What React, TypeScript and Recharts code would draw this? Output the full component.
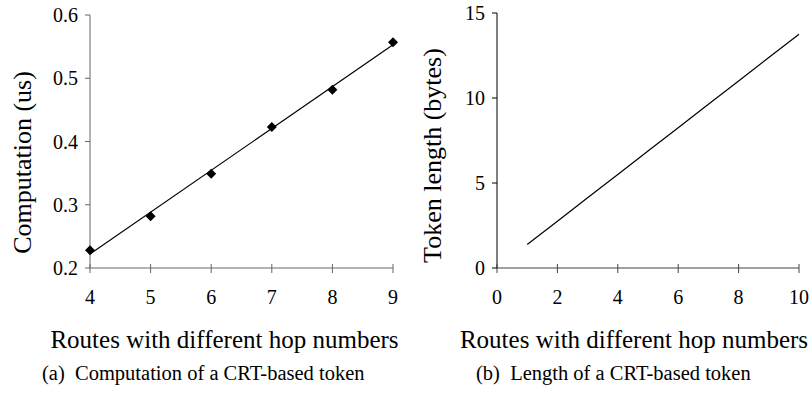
import { ComposedChart, Line, XAxis, YAxis } from "recharts";

// (a) computation time per route length
const hopsA = [4, 5, 6, 7, 8, 9];
const computationUs = [0.228, 0.282, 0.349, 0.423, 0.482, 0.557];
const fitUs = [0.222, null, null, null, null, 0.553];
const ticksAX = [4, 5, 6, 7, 8, 9];
const ticksAY = [0.2, 0.3, 0.4, 0.5, 0.6];

// (b) token length per route length
const hopsB = [1, 2, 3, 4, 5, 6, 7, 8, 9, 10];
const tokenBytes = [1.38, 2.75, 4.13, 5.5, 6.88, 8.25, 9.63, 11, 12.38, 13.75];
const ticksBX = [0, 2, 4, 6, 8, 10];
const ticksBY = [0, 5, 10, 15];

const dataA = hopsA.map((h, i) => ({ hop: h, time: computationUs[i], fit: fitUs[i] }));
const dataB = hopsB.map((h, i) => ({ hop: h, len: tokenBytes[i] }));

const FONT = "'Liberation Serif', 'Times New Roman', serif";
const TICK_SIZE = 20;
const XTITLE_SIZE = 25;
const YTITLE_SIZE = 26;
const CAPTION_SIZE = 20.5;

const txt = (size: number) => ({ fontFamily: FONT, fontSize: size });

const makeXTick = (color: string) => (props: any) => {
  const { x, y, payload } = props;
  return (
    <g>
      <line x1={x} x2={x} y1={y - 4} y2={y + 5} stroke={color} strokeWidth={1} />
      <text x={x} y={y + 36} textAnchor="middle" style={txt(TICK_SIZE)} fill="#000">
        {payload.value}
      </text>
    </g>
  );
};

const makeYTick = (color: string, fmt: (v: number) => string) => (props: any) => {
  const { x, y, payload } = props;
  return (
    <g>
      <line x1={x - 5} x2={x} y1={y} y2={y} stroke={color} strokeWidth={1} />
      <text x={x - 12} y={y} textAnchor="end" dominantBaseline="central" style={txt(TICK_SIZE)} fill="#000">
        {fmt(payload.value)}
      </text>
    </g>
  );
};

const xTitle = (title: string, caption: string, shift: number, capShift: number) => (props: any) => {
  const { x, y, width } = props.viewBox;
  return (
    <g>
      <text x={x + width / 2 + shift} y={y + 80} textAnchor="middle" style={txt(XTITLE_SIZE)} fill="#000">
        {title}
      </text>
      <text x={x + capShift} y={y + 112} textAnchor="start" style={{ ...txt(CAPTION_SIZE), whiteSpace: "pre" }} fill="#000">
        {caption}
      </text>
    </g>
  );
};

const yTitle = (title: string, dx: number, dy: number) => (props: any) => {
  const { x, y, width, height } = props.viewBox;
  const cx = x + width + dx;
  const cy = y + height / 2 + dy;
  return (
    <text x={cx} y={cy} textAnchor="middle" dominantBaseline="central" transform={`rotate(-90, ${cx}, ${cy})`} style={txt(YTITLE_SIZE)} fill="#000">
      {title}
    </text>
  );
};

const Diamond = (props: any) => {
  const { cx, cy } = props;
  if (cx == null || cy == null) return null;
  const r = 5;
  return <polygon points={`${cx},${cy - r} ${cx + r},${cy} ${cx},${cy + r} ${cx - r},${cy}`} fill="#000" />;
};

const App = () => {
  return (
    <div style={{ position: "absolute", left: 0, top: 0, width: 812, height: 393, background: "#fff", fontFamily: FONT }}>
      <div style={{ position: "absolute", left: 0, top: 0 }}>
        <ComposedChart width={410} height={393} data={dataA} margin={{ top: 15, right: 17, bottom: 95, left: 0 }}>
          <XAxis
            dataKey="hop"
            type="number"
            domain={[4, 9]}
            ticks={ticksAX}
            height={30}
            tickSize={0}
            tickMargin={0}
            tickLine={false}
            stroke="#666"
            tick={makeXTick("#666")}
            label={xTitle("Routes with different hop numbers", "(a)  Computation of a CRT-based token", -17, -48)}
          />
          <YAxis
            type="number"
            domain={[0.2, 0.6]}
            ticks={ticksAY}
            width={90}
            tickSize={0}
            tickMargin={0}
            tickLine={false}
            stroke="#666"
            tick={makeYTick("#666", (v) => v.toFixed(1))}
            label={yTitle("Computation (us)", -68, 21)}
          />
          <Line dataKey="fit" stroke="#000" strokeWidth={1.2} dot={false} connectNulls isAnimationActive={false} />
          <Line dataKey="time" stroke="none" dot={<Diamond />} isAnimationActive={false} />
        </ComposedChart>
      </div>
      <div style={{ position: "absolute", left: 410, top: 0 }}>
        <ComposedChart width={402} height={393} data={dataB} margin={{ top: 13, right: 13, bottom: 95, left: 0 }}>
          <XAxis
            dataKey="hop"
            type="number"
            domain={[0, 10]}
            ticks={ticksBX}
            height={30}
            tickSize={0}
            tickMargin={0}
            tickLine={false}
            stroke="#444"
            tick={makeXTick("#444")}
            label={xTitle("Routes with different hop numbers", "(b)  Length of a CRT-based token", -14, -21)}
          />
          <YAxis
            type="number"
            domain={[0, 15]}
            ticks={ticksBY}
            width={87}
            tickSize={0}
            tickMargin={0}
            tickLine={false}
            stroke="#000"
            tick={makeYTick("#000", (v) => String(v))}
            label={yTitle("Token length (bytes)", -65, 15)}
          />
          <Line dataKey="len" stroke="#000" strokeWidth={1.2} dot={false} isAnimationActive={false} />
        </ComposedChart>
      </div>
    </div>
  );
};

export default App;
